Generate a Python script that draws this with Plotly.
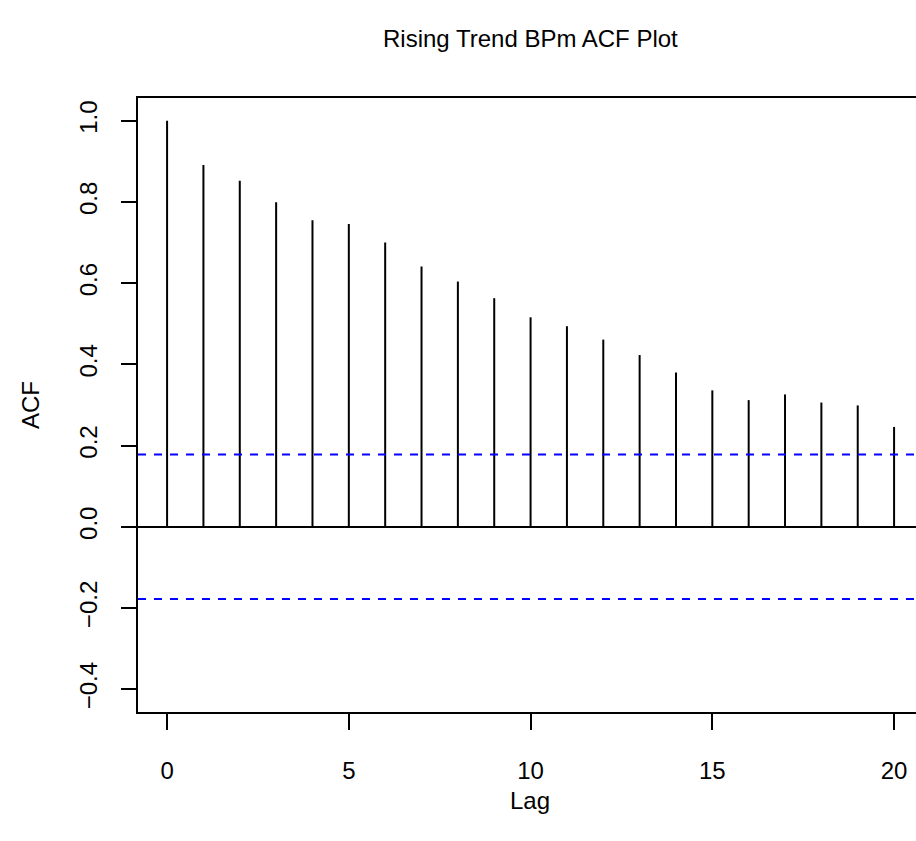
import plotly.graph_objects as go

# Data
lags = list(range(0, 21))
acf_values = [1.000, 0.891, 0.852, 0.799, 0.755, 0.746, 0.700, 0.641, 0.604, 0.563,
              0.516, 0.494, 0.461, 0.423, 0.380, 0.336, 0.312, 0.326, 0.306, 0.299, 0.246]
conf_limit = 0.178
x_ticks = [0, 5, 10, 15, 20]
y_ticks = [-0.4, -0.2, 0.0, 0.2, 0.4, 0.6, 0.8, 1.0]
y_tick_text = [("\u2212" if v < 0 else "") + f"{abs(v):.1f}" for v in y_ticks]

title_text = "Rising Trend BPm ACF Plot"
x_label = "Lag"
y_label = "ACF"

FONT = "Liberation Sans, Arial, Helvetica, sans-serif"

# stems
sx, sy = [], []
for lag, v in zip(lags, acf_values):
    sx += [lag, lag, None]
    sy += [0, v, None]

fig = go.Figure()
fig.add_trace(go.Scatter(x=sx, y=sy, mode="lines",
                         line=dict(color="black", width=2),
                         hoverinfo="skip", showlegend=False))

for c in (conf_limit, -conf_limit):
    fig.add_hline(y=c, line=dict(color="#0000FF", width=2, dash="8px,8px"))

W, H = 916, 841
L, R, T, B = 138, 0, 98, 129
pw = W - L - R
ph = H - T - B
px_per_lag = 36.35
x0 = -0.8
x1 = x0 + pw / px_per_lag

fig.update_layout(
    width=W, height=H,
    margin=dict(l=L, r=R, t=T, b=B, pad=0),
    paper_bgcolor="white", plot_bgcolor="white",
    font=dict(family=FONT, size=24, color="black"),
    showlegend=False,
    xaxis=dict(range=[x0, x1], tickvals=x_ticks, ticktext=[str(v) for v in x_ticks],
               showgrid=False, zeroline=False,
               showline=True, linecolor="black", linewidth=2, mirror=True,
               ticks="outside", ticklen=16, tickwidth=2, tickcolor="black",
               ticklabelstandoff=20,
               tickfont=dict(family=FONT, size=24, color="black")),
    yaxis=dict(range=[-0.456, 1.056], tickvals=y_ticks, ticktext=y_tick_text,
               showgrid=False, zeroline=True, zerolinecolor="black", zerolinewidth=2,
               showline=True, linecolor="black", linewidth=2, mirror=False,
               ticks="outside", ticklen=15, tickwidth=2, tickcolor="black",
               tickangle=-90, ticklabelstandoff=14,
               tickfont=dict(family=FONT, size=24, color="black")),
    annotations=[
        dict(text=title_text, xref="paper", yref="paper",
             x=(530 - L) / pw, y=1 + (98 - 39) / ph,
             xanchor="center", yanchor="middle", showarrow=False,
             font=dict(family=FONT, size=24, color="black")),
        dict(text=x_label, xref="paper", yref="paper",
             x=(530 - L) / pw, y=(712 - 800) / ph,
             xanchor="center", yanchor="middle", showarrow=False,
             font=dict(family=FONT, size=24, color="black")),
        dict(text=y_label, xref="paper", yref="paper",
             x=(30 - L) / pw, y=(712 - 405) / ph, textangle=-90,
             xanchor="center", yanchor="middle", showarrow=False,
             font=dict(family=FONT, size=24, color="black")),
    ],
)

fig.write_html("out.html")
